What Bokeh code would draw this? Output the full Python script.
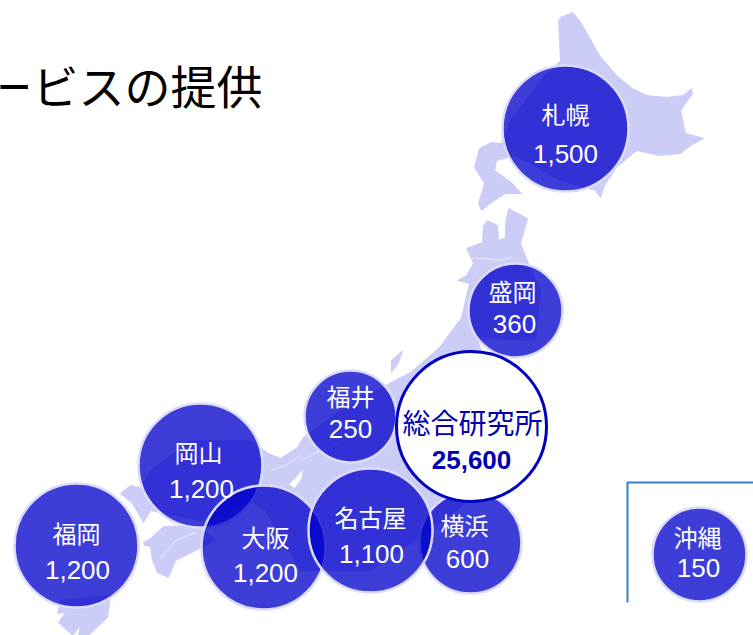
from bokeh.core.properties import value
from bokeh.embed import file_html
from bokeh.models import Range1d
from bokeh.plotting import figure
from bokeh.resources import INLINE

FONT = "Noto Sans CJK JP"
NUM_FONT = "Liberation Sans"

# Offices and the headcount shown on each bubble
offices = ["福岡", "岡山", "大阪", "横浜", "名古屋", "福井", "盛岡", "札幌", "沖縄"]
staff = ["1,200", "1,200", "1,200", "600", "1,100", "250", "360", "1,500", "150"]
head_office = "総合研究所"
head_staff = "25,600"
heading = "ービスの提供"

# Bubble layout, in page pixels
bubble_x = [76, 200, 263, 470, 370, 350, 515, 565, 699]
bubble_y = [545, 465, 547, 542, 530, 416, 310, 128, 554]
bubble_r = [62, 62, 62, 51, 62, 46, 47, 63, 47]
head_x, head_y, head_r = 471, 426, 75

label_x = [76, 198, 265, 464, 370, 350, 512, 565, 697]
label_y = [532, 451, 536, 524, 516, 395, 290, 113, 536]
count_x = [77, 201, 265, 467, 371, 350, 514, 565, 698]
count_y = [569, 488, 572, 558, 553, 428, 323, 153, 567]

# Simplified outlines of the islands
hokkaido_x = [558, 560, 572, 579, 589, 599, 616, 632, 646, 666, 683, 691, 692, 680, 685, 703, 690, 680, 659, 636, 616, 604, 600, 595, 560, 515, 496, 494, 511, 521, 505, 494, 481, 478, 484, 474, 479, 491, 501, 510, 540, 560]
hokkaido_y = [20, 17, 12, 20, 37, 55, 75, 88, 95, 97, 95, 88, 93, 110, 133, 138, 145, 153, 155, 150, 167, 185, 197, 190, 180, 155, 160, 170, 182, 193, 193, 200, 210, 203, 183, 167, 148, 142, 143, 120, 80, 60]
honshu_x = [487, 497, 498, 505, 505, 508, 527, 520, 528, 540, 535, 477, 500, 480, 430, 370, 300, 265, 250, 200, 150, 143, 132, 120, 130, 140, 150, 190, 250, 268, 280, 297, 303, 340, 385, 410, 439, 461, 469, 457, 466, 473, 466, 482, 483]
honshu_y = [220, 225, 240, 237, 223, 208, 218, 243, 263, 290, 340, 338, 420, 490, 530, 570, 570, 510, 500, 520, 510, 522, 503, 493, 485, 487, 470, 440, 440, 453, 458, 447, 437, 410, 385, 372, 347, 317, 283, 280, 275, 263, 248, 242, 225]
shikoku_x = [143, 150, 163, 200, 215, 205, 175, 168, 157, 152, 150, 144]
shikoku_y = [542, 538, 526, 525, 540, 545, 560, 577, 572, 560, 546, 545]
kyushu_x = [60, 110, 108, 107, 88, 78, 80, 72, 58, 65, 57]
kyushu_y = [600, 595, 610, 617, 635, 635, 625, 635, 622, 612, 613]
sado_x = [402, 398, 391, 391]
sado_y = [350, 362, 372, 360]
biwa_x = [302, 300, 294, 289, 296]
biwa_y = [470, 479, 487, 484, 477]

# Prefecture borders, drawn as faint white lines over the land
border_x = [[470, 485, 500, 510], [270, 285, 300], [300, 320, 345], [160, 175, 195]]
border_y = [[258, 258, 260, 257], [470, 465, 455], [460, 450, 440], [558, 540, 532]]

p = figure(width=753, height=635, output_backend="svg", toolbar_location=None,
           x_range=Range1d(0, 753), y_range=Range1d(635, 0),
           min_border=0, outline_line_color=None, background_fill_color="white")
p.axis.visible = False
p.grid.visible = False

land = "#cbcdf7"
p.patches([hokkaido_x, honshu_x, shikoku_x, kyushu_x, sado_x],
          [hokkaido_y, honshu_y, shikoku_y, kyushu_y, sado_y],
          fill_color=land, line_color=land, line_width=1)
p.patch(biwa_x, biwa_y, fill_color="white", line_color="white")
p.multi_line(border_x, border_y, line_color="white", line_alpha=0.6, line_width=1)

# Inset frame around Okinawa
frame_x = [627, 627, 753]
frame_y = [602, 482, 482]
p.line(frame_x, frame_y, line_color="#3d80c0", line_width=2)

p.circle(bubble_x, bubble_y, radius=bubble_r, fill_color="#0000cc", fill_alpha=0.76,
         line_color="#dcdcfa", line_width=2.5)

# Head office sits on top, in white
p.circle([head_x], [head_y], radius=head_r, fill_color="white", line_color="#0000c0", line_width=3)

p.text(label_x, label_y, text=offices, text_font=value(FONT), text_font_size="24px",
       text_color="white", text_align="center", text_baseline="middle")
p.text(count_x, count_y, text=staff, text_font=value(NUM_FONT), text_font_size="26px",
       text_color="white", text_align="center", text_baseline="middle")

p.text([472], [421], text=[head_office], text_font=value(FONT), text_font_size="28px",
       text_color="#0000b0", text_align="center", text_baseline="middle")
p.text([471], [459], text=[head_staff], text_font=value(NUM_FONT), text_font_size="26px",
       text_font_style="bold", text_color="#0000b0", text_align="center", text_baseline="middle")

# The heading runs off the left edge of the page
p.text([-14], [83], text=[heading], text_font=value(FONT), text_font_size="46px",
       text_color="black", text_align="left", text_baseline="middle")

open("out.html", "w").write(file_html(p, INLINE))
